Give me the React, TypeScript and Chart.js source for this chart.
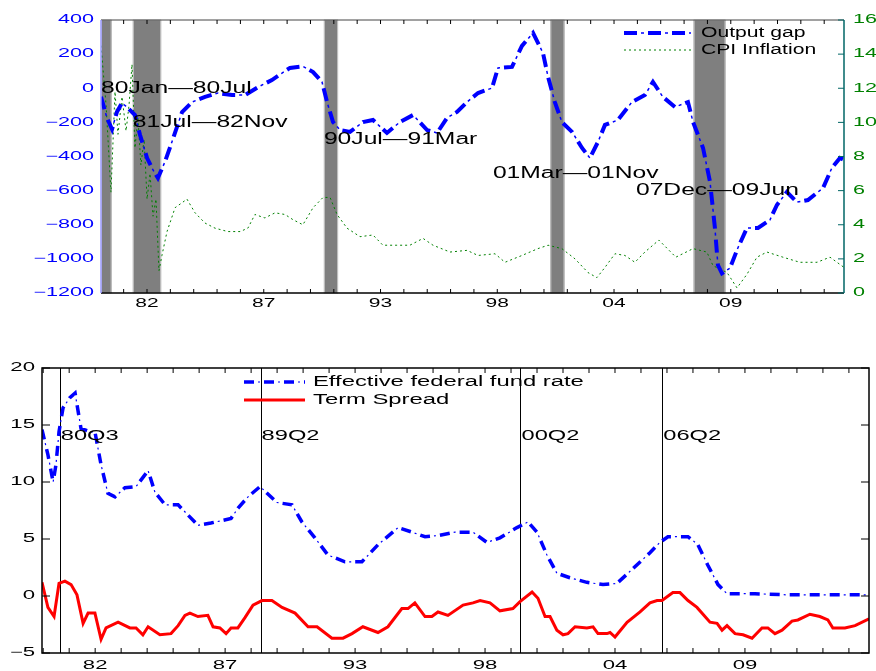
import React, { useEffect, useRef } from 'react';
import { Chart, registerables } from 'chart.js';
Chart.register(...registerables);

// ---------------- Top panel data ----------------
const gapYears = [1980.00,1980.28,1980.52,1980.75,1980.99,1981.27,1981.60,1981.84,1982.17,1982.45,1982.68,1983.01,1983.34,1983.82,1984.29,1984.90,1985.51,1986.17,1986.78,1987.40,1988.05,1988.53,1988.90,1989.51,1989.99,1990.41,1990.65,1990.93,1991.26,1991.73,1992.34,1992.81,1993.47,1994.08,1994.70,1995.36,1995.83,1996.30,1996.77,1997.24,1997.76,1998.42,1998.70,1999.36,1999.83,2000.35,2000.82,2001.06,2001.38,2001.71,2002.19,2002.66,2003.03,2003.41,2003.74,2004.35,2005.01,2005.62,2006.00,2006.47,2007.04,2007.65,2007.89,2008.36,2008.69,2008.92,2009.06,2009.25,2009.63,2010.00,2010.43,2010.95,2011.51,2011.84,2012.31,2012.78,2013.30,2014.01,2014.43,2014.81,2015.00];
const gapValues = [-50,-174,-240,-139,-86,-116,-157,-274,-409,-479,-526,-432,-315,-139,-81,-51,-28,-40,-40,7,48,89,119,128,95,37,-81,-198,-245,-256,-198,-186,-262,-198,-157,-245,-262,-174,-139,-81,-28,1,119,125,248,324,207,66,-81,-198,-256,-350,-409,-315,-215,-186,-81,-40,37,-51,-110,-81,-198,-350,-550,-819,-1036,-1085,-1054,-936,-819,-819,-772,-684,-608,-667,-655,-585,-467,-409,-420];

const cpiYears = [1980.00,1980.24,1980.47,1980.66,1980.80,1980.99,1981.18,1981.32,1981.46,1981.60,1981.74,1981.88,1982.03,1982.17,1982.31,1982.45,1982.59,1982.73,1982.87,1983.11,1983.49,1984.05,1984.43,1984.90,1985.37,1985.98,1986.55,1986.92,1987.25,1987.72,1988.20,1988.67,1989.04,1989.51,1989.99,1990.46,1990.79,1991.12,1991.59,1992.20,1992.81,1993.28,1993.94,1994.55,1995.17,1995.64,1996.44,1997.24,1997.76,1998.56,1999.03,1999.83,2000.58,2001.06,2001.71,2002.33,2002.94,2003.36,2003.74,2004.21,2004.68,2005.15,2005.62,2006.28,2007.08,2007.89,2008.54,2008.83,2009.49,2009.96,2010.43,2010.90,2011.37,2012.12,2012.92,2013.73,2014.34,2015.00];
const cpiValues = [14.5,11.0,5.9,11.8,9.3,11.5,9.5,11.0,13.4,8.5,10.3,7.5,9.0,5.5,7.0,4.5,5.5,1.3,2.2,3.6,5.0,5.5,4.7,4.1,3.8,3.6,3.6,3.8,4.6,4.4,4.7,4.6,4.3,4.0,5.0,5.6,5.6,4.6,3.8,3.3,3.4,2.8,2.8,2.8,3.2,2.8,2.4,2.5,2.2,2.3,1.8,2.2,2.6,2.8,2.6,2.0,1.2,0.9,1.5,2.3,2.2,1.8,2.4,3.1,2.1,2.6,2.4,1.6,1.2,0.3,1.1,2.1,2.4,2.1,1.8,1.8,2.1,1.5];

const recessionStarts = [1980.0, 1981.5, 1990.5, 2001.167, 2007.917];
const recessionEnds = [1980.5, 1982.833, 1991.167, 2001.833, 2009.417];
const recessionLabels = ['80Jan\u201480Jul', '81Jul\u201482Nov', '90Jul\u201491Mar', '01Mar\u201401Nov', '07Dec\u201409Jun'];
const recessionLabelX = [1980.0, 1981.5, 1990.5, 1998.46, 2005.2];
const recessionLabelY = [0, -200, -300, -500, -600];

const topTickYears = [1982.167, 1987.667, 1993.167, 1998.667, 2004.167, 2009.667];
const xTickLabels = ['82', '87', '93', '98', '04', '09'];
const gapTicks = [400, 200, 0, -200, -400, -600, -800, -1000, -1200];
const cpiTicks = [0, 2, 4, 6, 8, 10, 12, 14, 16];

// ---------------- Bottom panel data ----------------
const ffrYears = [1980.00,1980.25,1980.47,1980.59,1980.72,1980.89,1981.18,1981.40,1981.65,1982.07,1982.24,1982.50,1982.79,1983.09,1983.51,1983.98,1984.49,1984.78,1985.21,1985.76,1986.18,1986.60,1987.15,1988.00,1988.29,1988.72,1989.23,1989.94,1990.58,1991.00,1991.55,1992.10,1992.82,1993.54,1994.22,1995.07,1995.66,1996.21,1996.76,1997.48,1998.24,1998.83,1999.38,2000.10,2000.57,2000.95,2001.37,2001.79,2002.34,2003.06,2003.74,2004.33,2005.01,2005.73,2006.15,2006.49,2007.34,2007.76,2008.18,2008.61,2008.99,2010.17,2011.57,2013.01,2015.00];
const ffrValues = [14.6,12.4,10.0,11.5,14.4,16.5,17.4,17.8,14.7,14.4,14.4,11.5,9.0,8.7,9.5,9.6,11.0,9.1,8.0,8.0,7.1,6.2,6.4,6.8,7.7,8.7,9.6,8.2,8.0,6.5,5.1,3.6,3.0,3.0,4.5,6.0,5.6,5.2,5.3,5.6,5.6,4.7,5.1,6.0,6.5,5.6,3.6,2.0,1.6,1.2,1.0,1.1,2.4,3.8,4.7,5.2,5.2,4.5,2.7,1.0,0.2,0.2,0.1,0.1,0.1];

const spreadYears = [1980.00,1980.25,1980.51,1980.72,1980.97,1981.23,1981.48,1981.74,1981.95,1982.24,1982.50,1982.71,1983.22,1983.72,1983.98,1984.27,1984.49,1984.99,1985.46,1985.76,1986.05,1986.26,1986.60,1987.02,1987.24,1987.53,1987.79,1988.00,1988.29,1988.59,1988.93,1989.31,1989.73,1990.16,1990.71,1991.26,1991.64,1992.27,1992.74,1993.12,1993.58,1994.22,1994.64,1995.23,1995.49,1995.78,1996.21,1996.50,1996.76,1997.18,1997.82,1998.24,1998.54,1998.96,1999.38,1999.93,2000.23,2000.74,2000.99,2001.29,2001.50,2001.79,2002.05,2002.26,2002.56,2003.06,2003.32,2003.53,2003.91,2004.04,2004.25,2004.76,2005.31,2005.73,2006.03,2006.24,2006.70,2007.00,2007.34,2007.72,2008.27,2008.57,2008.78,2008.99,2009.33,2009.67,2010.05,2010.47,2010.72,2011.02,2011.32,2011.74,2011.99,2012.50,2012.92,2013.26,2013.47,2013.98,2014.41,2015.00];
const spreadValues = [1.2,-1.0,-1.8,1.1,1.3,1.0,0.1,-2.4,-1.5,-1.5,-3.8,-2.8,-2.3,-2.8,-2.8,-3.4,-2.7,-3.4,-3.3,-2.6,-1.7,-1.5,-1.8,-1.7,-2.7,-2.8,-3.3,-2.8,-2.8,-1.9,-0.8,-0.4,-0.4,-1.0,-1.5,-2.7,-2.7,-3.7,-3.7,-3.3,-2.7,-3.2,-2.7,-1.1,-1.1,-0.6,-1.8,-1.8,-1.4,-1.7,-0.8,-0.6,-0.4,-0.6,-1.3,-1.1,-0.5,0.35,-0.2,-1.8,-1.8,-3.0,-3.4,-3.3,-2.7,-2.8,-2.7,-3.3,-3.3,-3.2,-3.6,-2.3,-1.4,-0.6,-0.4,-0.4,0.3,0.3,-0.4,-1.0,-2.3,-2.4,-3.0,-2.6,-3.3,-3.4,-3.7,-2.8,-2.8,-3.3,-3.0,-2.2,-2.1,-1.6,-1.8,-2.1,-2.8,-2.8,-2.6,-2.0];

const bottomTickYears = [1982.25, 1987.75, 1993.25, 1998.75, 2004.25, 2009.75];
const rateTicks = [20, 15, 10, 5, 0, -5];
const eventYears = [1980.75, 1989.25, 2000.25, 2006.25];
const eventLabels = ['80Q3', '89Q2', '00Q2', '06Q2'];
const eventLabelY = 14;

// ---------------- helpers ----------------
const FONT = '"Liberation Sans", Arial, Helvetica, sans-serif';

function drawText(ctx: CanvasRenderingContext2D, s: string, x: number, y: number, size: number, sx: number, color: string, align: string = 'left') {
  ctx.save();
  ctx.font = `${size}px ${FONT}`;
  ctx.fillStyle = color;
  ctx.textBaseline = 'middle';
  ctx.textAlign = 'left';
  const w = ctx.measureText(s).width * sx;
  const x0 = align === 'right' ? x - w : align === 'center' ? x - w / 2 : x;
  ctx.translate(x0, y);
  ctx.scale(sx, 1);
  ctx.fillText(s, 0, 0);
  ctx.restore();
}

function seg(ctx: CanvasRenderingContext2D, x1: number, y1: number, x2: number, y2: number, color: string, width: number, dash: number[] = [], offset = 0) {
  ctx.save();
  ctx.strokeStyle = color;
  ctx.lineWidth = width;
  ctx.setLineDash(dash);
  ctx.lineDashOffset = offset;
  ctx.beginPath();
  ctx.moveTo(x1, y1);
  ctx.lineTo(x2, y2);
  ctx.stroke();
  ctx.restore();
}

function minorTicks(majors: number[], step: number, min: number, max: number) {
  const out: number[] = [];
  let t = majors[0];
  while (t - step > min) t -= step;
  for (; t < max; t += step) out.push(t);
  return out;
}

// dash-dot styles: thick dashes + thin dots drawn as two passes of the same series
const GAP_DASH = [13, 11];
const GAP_DOT = [3, 21];
const GAP_DOT_OFFSET = -17;
const CPI_DASH = [2, 3];
const FFR_DASH = [10, 10];
const FFR_DOT = [2, 18];
const FFR_DOT_OFFSET = -14;

const topDecor = {
  id: 'topDecor',
  beforeDatasetsDraw(chart: any) {
    const { ctx, chartArea: a, scales } = chart;
    const x = scales.x;
    ctx.save();
    for (let i = 0; i < recessionStarts.length; i++) {
      const x1 = x.getPixelForValue(recessionStarts[i]);
      const x2 = x.getPixelForValue(recessionEnds[i]);
      ctx.fillStyle = '#7f7f7f';
      ctx.fillRect(x1, a.top, x2 - x1, a.bottom - a.top);
      ctx.strokeStyle = '#c4c4c4';
      ctx.lineWidth = 1;
      ctx.strokeRect(x1 + 0.5, a.top, x2 - x1 - 1, a.bottom - a.top);
    }
    ctx.restore();
  },
  afterDatasetsDraw(chart: any) {
    const { ctx, chartArea: a, scales } = chart;
    const x = scales.x, y = scales.y, y1 = scales.y1;
    seg(ctx, a.left, a.top, a.right, a.top, '#444444', 1);
    seg(ctx, a.left, a.bottom, a.right, a.bottom, '#000000', 1.5);
    seg(ctx, a.left, a.top, a.left, a.bottom, '#9a9aff', 1.5);
    seg(ctx, a.right, a.top, a.right, a.bottom, '#006666', 1.5);
    for (const t of minorTicks(topTickYears, 1.1, 1980, 2015)) {
      const px = x.getPixelForValue(t);
      seg(ctx, px, a.bottom, px, a.bottom - 4, '#000', 1);
      seg(ctx, px, a.top, px, a.top + 4, '#000', 1);
    }
    for (const v of cpiTicks) {
      const py = y1.getPixelForValue(v);
      seg(ctx, a.right, py, a.right - 6, py, '#006666', 1);
    }
    topTickYears.forEach((t, i) => drawText(ctx, xTickLabels[i], x.getPixelForValue(t), a.bottom + 11, 12.5, 1.68, '#000', 'center'));
    gapTicks.forEach((v) => drawText(ctx, String(v).replace('-', '\u2212'), a.left - 7, y.getPixelForValue(v), 12, 1.8, '#0000ff', 'right'));
    cpiTicks.forEach((v) => drawText(ctx, String(v), a.right + 9, y1.getPixelForValue(v), 12, 1.8, '#008000', 'left'));
    recessionLabels.forEach((s, i) => drawText(ctx, s, x.getPixelForValue(recessionLabelX[i]), y.getPixelForValue(recessionLabelY[i]), 16, 1.54, '#000', 'left'));
    // legend
    seg(ctx, 624, 33, 691, 33, '#0000ff', 4, GAP_DASH);
    seg(ctx, 624, 33, 691, 33, '#0000ff', 1.5, GAP_DOT, GAP_DOT_OFFSET);
    seg(ctx, 624, 50, 691, 50, '#008000', 1, CPI_DASH);
    drawText(ctx, 'Output gap', 701, 33, 14, 1.51, '#000');
    drawText(ctx, 'CPI Inflation', 701, 50, 14, 1.51, '#000');
  },
};

const bottomDecor = {
  id: 'bottomDecor',
  beforeDatasetsDraw(chart: any) {
    const { ctx, chartArea: a, scales } = chart;
    const x = scales.x;
    for (const t of eventYears) {
      const px = Math.round(x.getPixelForValue(t)) + 0.5;
      seg(ctx, px, a.top, px, a.bottom, '#000', 1);
    }
  },
  afterDatasetsDraw(chart: any) {
    const { ctx, chartArea: a, scales } = chart;
    const x = scales.x, y = scales.y;
    ctx.save();
    ctx.strokeStyle = '#000';
    ctx.lineWidth = 1.5;
    ctx.strokeRect(a.left, a.top, a.right - a.left, a.bottom - a.top);
    ctx.restore();
    for (const t of minorTicks(bottomTickYears, 1.1, 1980, 2015)) {
      const px = x.getPixelForValue(t);
      seg(ctx, px, a.bottom, px, a.bottom - 5, '#000', 1);
      seg(ctx, px, a.top, px, a.top + 5, '#000', 1);
    }
    for (const v of rateTicks) {
      const py = y.getPixelForValue(v);
      seg(ctx, a.left, py, a.left + 8, py, '#000', 1);
      seg(ctx, a.right, py, a.right - 8, py, '#000', 1);
    }
    bottomTickYears.forEach((t, i) => drawText(ctx, xTickLabels[i], x.getPixelForValue(t), a.bottom + 12, 13, 1.7, '#000', 'center'));
    rateTicks.forEach((v) => drawText(ctx, String(v).replace('-', '\u2212'), a.left - 7, y.getPixelForValue(v), 12, 1.85, '#000', 'right'));
    eventYears.forEach((t, i) => drawText(ctx, eventLabels[i], x.getPixelForValue(t) + 1, y.getPixelForValue(eventLabelY), 14, 1.69, '#000', 'left'));
    seg(ctx, 244, 52, 305, 52, '#0000ff', 3.5, FFR_DASH);
    seg(ctx, 244, 52, 305, 52, '#0000ff', 1.2, FFR_DOT, FFR_DOT_OFFSET);
    seg(ctx, 244, 70, 305, 70, '#ff0000', 3, []);
    drawText(ctx, 'Effective federal fund rate', 313, 52, 14, 1.7, '#000');
    drawText(ctx, 'Term Spread', 313, 70, 14, 1.7, '#000');
  },
};

function toPoints(xs: number[], ys: number[]) {
  return xs.map((v, i) => ({ x: v, y: ys[i] }));
}

const base = { pointRadius: 0, fill: false, tension: 0 };

export default function App() {
  const topRef = useRef<HTMLCanvasElement>(null);
  const botRef = useRef<HTMLCanvasElement>(null);

  useEffect(() => {
    const gapPts = toPoints(gapYears, gapValues);
    const ffrPts = toPoints(ffrYears, ffrValues);
    const top = new Chart(topRef.current as HTMLCanvasElement, {
      type: 'line',
      data: {
        datasets: [
          { ...base, label: 'Output gap', data: gapPts, yAxisID: 'y', borderColor: '#0000ff', borderWidth: 4, borderDash: GAP_DASH, order: 1 },
          { ...base, label: 'Output gap (dots)', data: gapPts, yAxisID: 'y', borderColor: '#0000ff', borderWidth: 1.5, borderDash: GAP_DOT, borderDashOffset: GAP_DOT_OFFSET, order: 1 },
          { ...base, label: 'CPI Inflation', data: toPoints(cpiYears, cpiValues), yAxisID: 'y1', borderColor: '#008000', borderWidth: 1, borderDash: CPI_DASH, order: 2 },
        ],
      },
      options: {
        responsive: false,
        animation: false,
        devicePixelRatio: 1,
        events: [],
        layout: { padding: { left: 101, right: 32, top: 20, bottom: 37 } },
        plugins: { legend: { display: false }, tooltip: { enabled: false } },
        scales: {
          x: { type: 'linear', min: 1980, max: 2015, display: false },
          y: { type: 'linear', min: -1200, max: 400, display: false },
          y1: { type: 'linear', min: 0, max: 16, display: false, position: 'right' },
        },
      } as any,
      plugins: [topDecor],
    });
    const bottom = new Chart(botRef.current as HTMLCanvasElement, {
      type: 'line',
      data: {
        datasets: [
          { ...base, label: 'Effective federal fund rate', data: ffrPts, borderColor: '#0000ff', borderWidth: 3.5, borderDash: FFR_DASH, order: 1 },
          { ...base, label: 'Effective federal fund rate (dots)', data: ffrPts, borderColor: '#0000ff', borderWidth: 1.2, borderDash: FFR_DOT, borderDashOffset: FFR_DOT_OFFSET, order: 1 },
          { ...base, label: 'Term Spread', data: toPoints(spreadYears, spreadValues), borderColor: '#ff0000', borderWidth: 3, order: 2 },
        ],
      },
      options: {
        responsive: false,
        animation: false,
        devicePixelRatio: 1,
        events: [],
        layout: { padding: { left: 42, right: 7, top: 38, bottom: 18 } },
        plugins: { legend: { display: false }, tooltip: { enabled: false } },
        scales: {
          x: { type: 'linear', min: 1980, max: 2015, display: false },
          y: { type: 'linear', min: -5, max: 20, display: false },
        },
      } as any,
      plugins: [bottomDecor],
    });
    return () => {
      top.destroy();
      bottom.destroy();
    };
  }, []);

  return (
    <div style={{ position: 'fixed', left: 0, top: 0, width: 876, height: 671, background: '#ffffff', overflow: 'hidden' }}>
      <canvas ref={topRef} width={876} height={330} style={{ position: 'absolute', left: 0, top: 0, width: 876, height: 330 }} />
      <canvas ref={botRef} width={876} height={341} style={{ position: 'absolute', left: 0, top: 330, width: 876, height: 341 }} />
    </div>
  );
}
